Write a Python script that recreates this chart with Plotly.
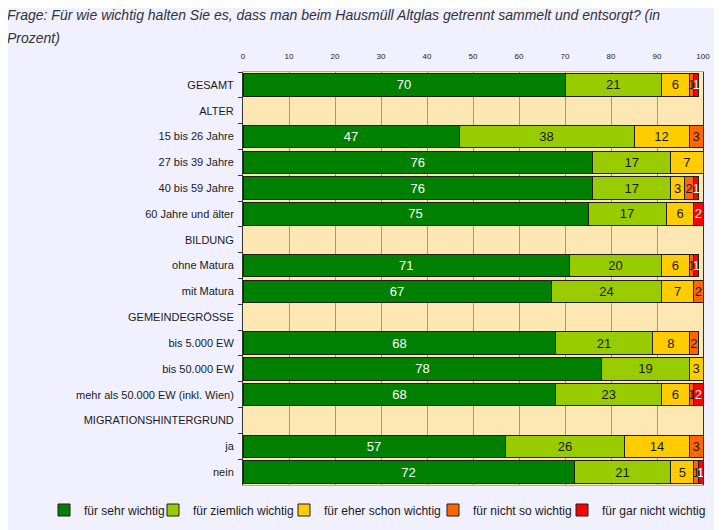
import plotly.graph_objects as go

categories = ["GESAMT", "ALTER", "15 bis 26 Jahre", "27 bis 39 Jahre", "40 bis 59 Jahre",
              "60 Jahre und älter", "BILDUNG", "ohne Matura", "mit Matura", "GEMEINDEGRÖSSE",
              "bis 5.000 EW", "bis 50.000 EW", "mehr als 50.000 EW (inkl. Wien)",
              "MIGRATIONSHINTERGRUND", "ja", "nein"]

sehr_wichtig      = [70, None, 47, 76, 76, 75, None, 71, 67, None, 68, 78, 68, None, 57, 72]
ziemlich_wichtig  = [21, None, 38, 17, 17, 17, None, 20, 24, None, 21, 19, 23, None, 26, 21]
eher_schon        = [6,  None, 12, 7,  3,  6,  None, 6,  7,  None, 8,  3,  6,  None, 14, 5]
nicht_so          = [1,  None, 3,  0,  2,  0,  None, 1,  2,  None, 2,  0,  1,  None, 3,  1]
gar_nicht         = [1,  None, 0,  0,  1,  2,  None, 1,  0,  None, 0,  0,  2,  None, 0,  1]

series_names = ["für sehr wichtig", "für ziemlich wichtig", "für eher schon wichtig",
                "für nicht so wichtig", "für gar nicht wichtig"]
series_values = [sehr_wichtig, ziemlich_wichtig, eher_schon, nicht_so, gar_nicht]
colors = ["#008000", "#99CC00", "#FFCC00", "#FF6600", "#FF0000"]
text_colors = ["#FFFFFF", "#1a1a1a", "#1a1a1a", "#1a1a1a", "#FFFFFF"]
legend_widths = [64, 86, 104, 84, 110]

title_lines = ["Frage: Für wie wichtig halten Sie es, dass man beim Hausmüll Altglas getrennt sammelt und entsorgt? (in",
               "Prozent)"]

tick_vals = [0, 10, 20, 30, 40, 50, 60, 70, 80, 90, 100]

fig = go.Figure()
for name, vals, col, tcol, lw in zip(series_names, series_values, colors, text_colors, legend_widths):
    fig.add_trace(go.Bar(
        y=categories, x=vals, name=name, orientation="h",
        marker=dict(color=col, line=dict(color="#1f1f1f", width=1)),
        text=[str(v) if v else "" for v in vals],
        textposition="inside", insidetextanchor="middle",
        textfont=dict(color=tcol, size=13, family="Liberation Sans, Arial"),
        hoverinfo="skip", cliponaxis=False, legendwidth=lw,
    ))

# page body adds an 8px offset; figure sized/margined to compensate
L, R, T, B = 235, 19, 64, 45
W, H = 714, 522
PW, PH = W - L - R, H - T - B

for i, line in enumerate(title_lines):
    fig.add_annotation(
        text="<i>" + line + "</i>", xref="paper", yref="paper",
        x=-(L + 3) / PW, xanchor="left",
        y=1 + (T - 7 - 23 * i) / PH, yanchor="middle",
        showarrow=False, font=dict(size=14, color="#333333"),
    )

fig.update_layout(
    barmode="stack", bargap=0.13,
    width=W, height=H,
    paper_bgcolor="#F0F0FF", plot_bgcolor="#FDE8B4",
    margin=dict(l=L, r=R, t=T, b=B, autoexpand=False),
    font=dict(family="Liberation Sans, Arial", color="#1a1a1a"),
    uniformtext=dict(minsize=13, mode="show"),
    showlegend=True,
    legend=dict(orientation="h", x=(36 - L) / PW, xanchor="left",
                y=-25 / PH, yanchor="middle",
                font=dict(size=12, color="#1a1a1a"), bgcolor="rgba(0,0,0,0)",
                itemwidth=30, traceorder="normal", tracegroupgap=0),
    xaxis=dict(range=[0, 100], side="top", tickvals=tick_vals, showgrid=True,
               gridcolor="#999999", gridwidth=1, tickfont=dict(size=8, color="#1a1a1a"),
               showline=True, linecolor="#AAAAAA", mirror=True, zeroline=False, fixedrange=True,
               ticks="", ticklabelstandoff=9),
    yaxis=dict(autorange="reversed", tickfont=dict(size=11, color="#1a1a1a"),
               ticks="outside", tickson="boundaries", ticklen=4, tickcolor="#333333",
               ticklabelstandoff=6,
               showline=True, linecolor="#333333", mirror=True, showgrid=False),
)

fig.write_html("out.html")
